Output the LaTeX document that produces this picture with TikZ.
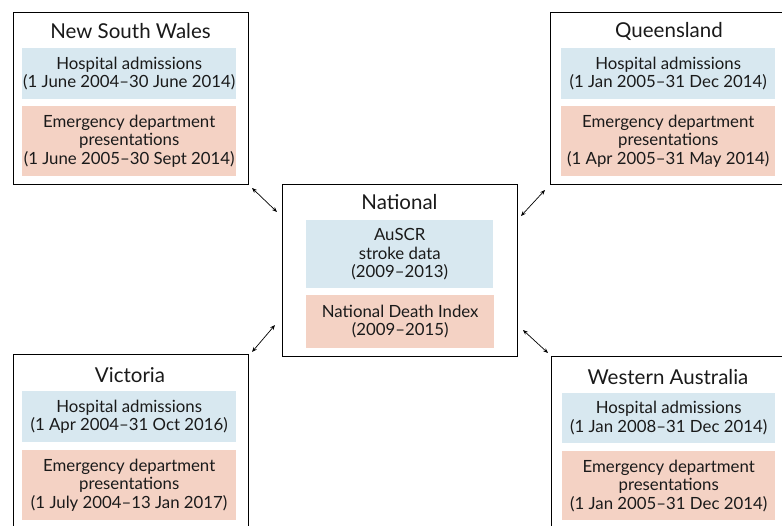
\documentclass[tikz,border=0pt]{standalone}
\usepackage{fontspec}
\setmainfont{Lato}
\usepackage{tikz}
\usetikzlibrary{positioning,arrows.meta,calc}
\definecolor{HospBlue}{HTML}{D8E8F0}
\definecolor{EdPeach}{HTML}{F4D2C4}
\definecolor{TextDark}{HTML}{1A1A1A}

\begin{document}
\begin{tikzpicture}[x=1pt,y=-1pt,
                    every node/.style={font=\fontsize{16.8}{18.5}\selectfont,text=TextDark},
                    frame/.style={draw=black,line width=1pt,anchor=north west,
                      minimum width=235pt,minimum height=172pt,inner sep=0pt},
                    ttl/.style={font=\fontsize{20.5}{22}\selectfont},
                    hosp/.style={fill=HospBlue,anchor=north west,align=center,
                      minimum width=214pt,minimum height=51pt,inner sep=0pt},
                    ed/.style={fill=EdPeach,anchor=north west,align=center,
                      minimum width=214pt,minimum height=70pt,inner sep=0pt},
                    ar/.style={{Stealth[length=5pt,width=4pt]}-{Stealth[length=5pt,width=4pt]},line width=0.7pt}]
      \clip (0,0) rectangle (782,526);
      \fill[white] (0,0) rectangle (782,526);
      % New South Wales
      \node[frame] (nsw) at (13,12) {};
      \node[ttl] (nswttl) at (130.5,31) {New South Wales};
      \node[hosp] (nswhosp) at (22,48)
        {Hospital admissions\\(1 June 2004–30 June 2014)};
      \node[ed] (nswed) at (22,106)
        {Emergency department\\presentations\\(1 June 2005–30 Sept 2014)};
      % Queensland
      \node[frame] (qld) at (550,12) {};
      \node[ttl] (qldttl) at (669,31) {Queensland};
      \node[hosp] (qldhosp) at (561,48)
        {Hospital admissions\\(1 Jan 2005–31 Dec 2014)};
      \node[ed] (qlded) at (561,106)
        {Emergency department\\presentations\\(1 Apr 2005–31 May 2014)};
      % National
      \node[frame] (nat) at (282,184) {};
      \node[ttl] (natttl) at (399.5,202) {National};
      \node[hosp,minimum width=187pt,minimum height=68pt] (nathosp) at (306,220)
        {AuSCR\\stroke data\\(2009–2013)};
      \node[ed,minimum width=188pt,minimum height=53pt] (nated) at (306,295)
        {National Death Index\\(2009–2015)};
      % Victoria
      \node[frame] (vic) at (13,354) {};
      \node[ttl] (victtl) at (130,375) {Victoria};
      \node[hosp] (vichosp) at (22,391)
        {Hospital admissions\\(1 Apr 2004–31 Oct 2016)};
      \node[ed] (viced) at (22,450)
        {Emergency department\\presentations\\(1 July 2004–13 Jan 2017)};
      % Western Australia
      \node[frame] (wa) at (551,356) {};
      \node[ttl] (wattl) at (668,377) {Western Australia};
      \node[hosp,minimum width=213pt,minimum height=50pt] (wahosp) at (562,393)
        {Hospital admissions\\(1 Jan 2008–31 Dec 2014)};
      \node[ed,minimum width=213pt,minimum height=69pt] (waed) at (562,451)
        {Emergency department\\presentations\\(1 Jan 2005–31 Dec 2014)};
      % links to the national data
      \draw[ar] ([shift={(3,3)}]nsw.south east) -- ([shift={(-5,28)}]nat.north west);
      \draw[ar] ([shift={(-5,5)}]qld.south west) -- ([shift={(3,32)}]nat.north east);
      \draw[ar] ([shift={(-7,-32)}]nat.south west) -- ([shift={(3,-2)}]vic.north east);
      \draw[ar] ([shift={(5,-27)}]nat.south east) -- ([shift={(-3,-3)}]wa.north west);
    \end{tikzpicture}
\end{document}
